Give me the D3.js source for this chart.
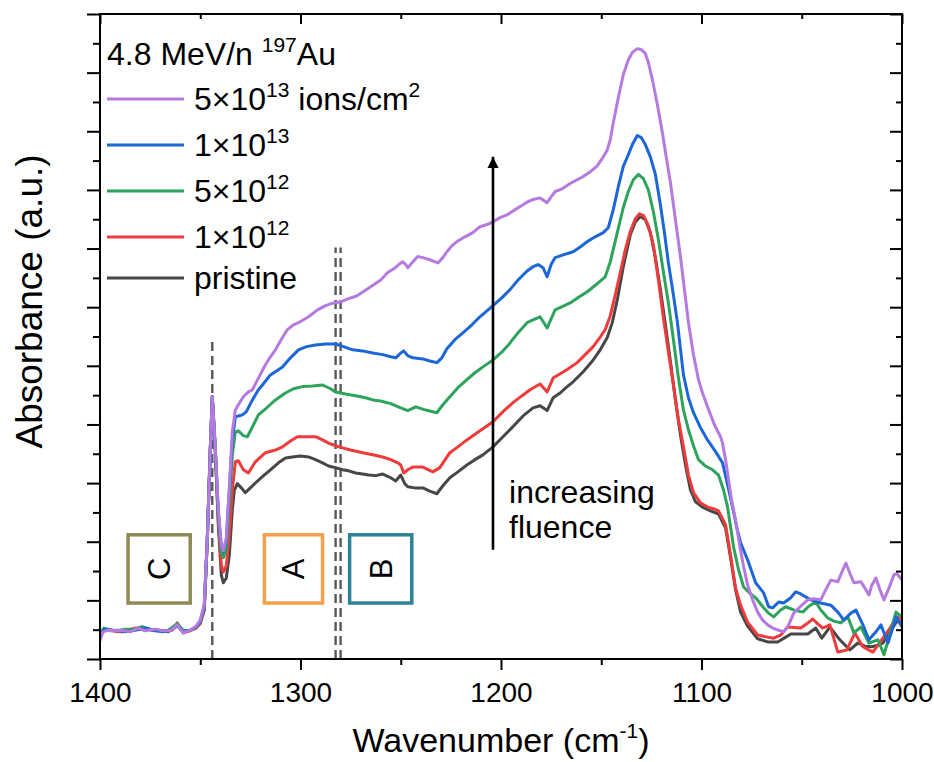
<!DOCTYPE html>
<html>
<head>
<meta charset="utf-8">
<script src="https://cdn.jsdelivr.net/npm/d3@7"></script>
<style>
  body { margin: 0; background: #fff; }
  svg { display: block; }
  text { font-family: "Liberation Sans", Arial, Helvetica, sans-serif; fill: #000; }
</style>
</head>
<body>
<svg id="chart" width="934" height="762"></svg>
<script>
// IR absorbance spectra, [wavenumber (cm-1), absorbance (a.u.)]
const pristine = [[1400,0.047],[1398,0.054],[1396,0.056],[1392.5,0.053],[1389,0.051],[1385,0.054],[1379,0.060],[1375,0.056],[1371,0.054],[1366,0.051],[1361.5,0.066],[1358.5,0.053],[1355,0.054],[1352.5,0.058],[1350,0.068],[1348,0.092],[1346.5,0.223],[1345,0.392],[1344,0.492],[1342.5,0.392],[1341,0.252],[1339.5,0.158],[1338.5,0.143],[1337,0.152],[1335.5,0.195],[1334,0.280],[1333,0.317],[1331.5,0.329],[1329.5,0.321],[1327.5,0.312],[1325,0.321],[1322,0.332],[1319,0.342],[1315,0.355],[1311,0.368],[1307.5,0.377],[1304,0.379],[1300,0.381],[1296,0.379],[1292.5,0.374],[1289,0.368],[1286,0.362],[1282.5,0.359],[1279,0.355],[1276,0.353],[1272.5,0.349],[1269,0.347],[1266,0.345],[1262.5,0.344],[1259,0.347],[1255,0.340],[1252.5,0.334],[1250,0.345],[1248,0.329],[1246.5,0.323],[1243,0.321],[1239,0.321],[1235.5,0.315],[1232,0.310],[1229,0.325],[1225.5,0.340],[1221.5,0.351],[1217,0.364],[1213,0.374],[1209,0.383],[1204,0.398],[1199,0.417],[1194,0.436],[1189,0.456],[1184,0.471],[1180.5,0.475],[1177,0.466],[1174,0.490],[1170.5,0.499],[1167,0.511],[1164,0.520],[1159,0.539],[1154,0.561],[1150.5,0.580],[1147,0.603],[1144.5,0.631],[1142,0.674],[1139,0.736],[1135.5,0.796],[1133,0.820],[1130.5,0.830],[1128,0.824],[1125.5,0.800],[1123,0.753],[1120.5,0.693],[1118,0.627],[1115.5,0.558],[1113,0.486],[1110.5,0.420],[1108,0.364],[1105.5,0.317],[1103,0.295],[1099.5,0.285],[1095.5,0.278],[1091.5,0.272],[1088,0.246],[1085.5,0.190],[1083,0.130],[1080.5,0.088],[1077,0.062],[1072,0.038],[1067,0.032],[1062,0.032],[1058,0.041],[1055.5,0.047],[1050.5,0.047],[1047,0.047],[1043,0.058],[1040,0.039],[1036,0.060],[1031,0.036],[1026,0.017],[1022,0.030],[1018.5,0.024],[1015,0.023],[1012,0.026],[1009.5,0.030],[1006,0.051],[1002.5,0.071],[1000,0.068]];

const fluence1e12 = [[1400,0.047],[1397.5,0.056],[1395,0.054],[1391,0.051],[1387.5,0.053],[1382.5,0.058],[1377.5,0.056],[1372.5,0.054],[1367.5,0.053],[1364,0.054],[1361.5,0.068],[1358.5,0.049],[1355,0.053],[1352,0.058],[1350,0.066],[1348,0.092],[1346.5,0.223],[1345,0.392],[1344,0.492],[1342.5,0.392],[1341,0.261],[1339.5,0.176],[1338.5,0.163],[1337,0.175],[1335.5,0.233],[1334,0.317],[1332.5,0.370],[1331,0.372],[1328.5,0.355],[1326,0.349],[1322.5,0.370],[1317.5,0.387],[1312.5,0.392],[1309,0.398],[1305,0.409],[1301.5,0.417],[1297.5,0.417],[1292.5,0.417],[1289,0.411],[1286,0.405],[1282.5,0.400],[1279,0.396],[1275,0.392],[1269,0.387],[1264,0.383],[1259,0.379],[1255,0.374],[1251.5,0.368],[1250,0.364],[1248.5,0.349],[1246.5,0.355],[1244,0.360],[1239,0.360],[1234,0.351],[1230.5,0.359],[1225.5,0.387],[1221.5,0.398],[1217,0.411],[1210.5,0.428],[1204,0.445],[1199,0.464],[1194,0.481],[1189.5,0.494],[1185.5,0.505],[1180.5,0.516],[1177,0.501],[1174,0.527],[1170.5,0.535],[1167,0.543],[1162,0.556],[1158,0.571],[1154,0.586],[1150.5,0.604],[1148,0.618],[1145.5,0.644],[1143,0.683],[1140.5,0.725],[1138,0.768],[1135.5,0.802],[1133,0.826],[1131,0.835],[1129,0.832],[1126.5,0.813],[1124,0.777],[1121.5,0.711],[1119,0.640],[1116.5,0.576],[1114,0.514],[1111.5,0.449],[1109,0.398],[1106.5,0.345],[1104,0.312],[1100.5,0.293],[1097,0.285],[1094,0.282],[1091.5,0.278],[1088,0.252],[1085.5,0.195],[1083,0.133],[1080.5,0.101],[1077,0.069],[1072,0.045],[1067,0.041],[1064,0.039],[1060.5,0.045],[1057,0.060],[1050.5,0.058],[1047.5,0.066],[1044.5,0.075],[1042,0.066],[1039.5,0.058],[1036,0.064],[1032,0.013],[1027.5,0.017],[1023.5,0.049],[1019.5,0.023],[1014.5,0.013],[1009.5,0.039],[1006,0.058],[1002.5,0.079],[1000,0.073]];

const fluence5e12 = [[1400,0.047],[1398,0.058],[1395,0.054],[1391,0.053],[1387.5,0.056],[1382.5,0.056],[1379,0.060],[1374,0.054],[1370,0.053],[1366,0.054],[1361.5,0.066],[1358.5,0.053],[1355,0.054],[1352,0.060],[1350,0.069],[1348,0.096],[1346.5,0.223],[1345,0.392],[1344,0.492],[1342.5,0.392],[1341,0.270],[1339.5,0.201],[1338.5,0.190],[1337,0.205],[1335.5,0.289],[1334,0.383],[1332.5,0.426],[1331,0.428],[1328.5,0.419],[1326.5,0.417],[1323.5,0.439],[1321,0.458],[1317.5,0.469],[1312.5,0.486],[1307.5,0.499],[1303.5,0.507],[1299,0.511],[1294,0.512],[1289,0.514],[1285,0.507],[1282.5,0.501],[1277.5,0.497],[1272.5,0.494],[1267.5,0.490],[1264,0.486],[1260,0.484],[1255,0.479],[1250,0.471],[1246.5,0.466],[1242.5,0.473],[1237.5,0.467],[1232,0.462],[1229,0.477],[1225.5,0.492],[1221.5,0.509],[1217,0.524],[1213,0.537],[1209,0.548],[1204,0.561],[1199.5,0.576],[1195.5,0.593],[1191.5,0.612],[1187,0.631],[1184,0.636],[1180.5,0.642],[1177,0.621],[1173,0.655],[1169.5,0.661],[1165.5,0.668],[1161.5,0.678],[1157,0.689],[1152,0.704],[1148,0.717],[1145.5,0.745],[1142,0.800],[1139,0.847],[1136.5,0.877],[1134,0.899],[1131.5,0.909],[1129,0.901],[1126.5,0.880],[1124,0.839],[1121.5,0.787],[1119,0.726],[1116.5,0.668],[1114,0.599],[1111.5,0.527],[1109,0.467],[1106.5,0.430],[1104,0.400],[1101.5,0.374],[1098,0.362],[1094.5,0.355],[1091.5,0.345],[1089,0.317],[1087,0.285],[1084,0.210],[1081.5,0.167],[1079,0.135],[1075.5,0.122],[1073,0.115],[1069,0.096],[1066.5,0.086],[1064,0.079],[1060.5,0.092],[1058,0.098],[1054,0.092],[1049.5,0.088],[1046.5,0.099],[1043,0.107],[1040.5,0.092],[1037,0.077],[1034,0.071],[1030.5,0.068],[1027,0.079],[1024,0.049],[1020.5,0.060],[1016.5,0.030],[1012,0.036],[1009,0.008],[1005.5,0.054],[1003,0.088],[1000,0.079]];

const fluence1e13 = [[1400,0.043],[1398,0.056],[1395,0.053],[1391,0.054],[1387.5,0.051],[1382.5,0.054],[1377.5,0.058],[1372.5,0.053],[1368.5,0.051],[1365,0.054],[1361.5,0.062],[1358.5,0.051],[1355,0.054],[1352,0.060],[1350,0.071],[1348,0.099],[1346.5,0.223],[1345,0.392],[1344,0.492],[1342.5,0.396],[1341,0.276],[1339.5,0.212],[1338.5,0.201],[1337,0.223],[1335.5,0.317],[1334,0.411],[1332.5,0.454],[1331,0.456],[1329,0.458],[1327,0.464],[1324,0.486],[1321,0.505],[1319,0.514],[1315,0.533],[1309,0.548],[1305,0.565],[1301,0.580],[1297,0.586],[1292.5,0.589],[1287.5,0.591],[1282.5,0.591],[1278.5,0.586],[1274,0.580],[1269,0.578],[1264,0.574],[1259,0.571],[1255,0.567],[1252.5,0.565],[1250,0.574],[1248.5,0.578],[1246.5,0.569],[1244,0.565],[1239,0.563],[1235.5,0.559],[1232,0.556],[1229.5,0.565],[1227,0.582],[1223,0.599],[1219,0.612],[1214.5,0.627],[1210.5,0.642],[1207,0.653],[1204,0.663],[1199.5,0.678],[1195.5,0.693],[1191.5,0.711],[1187,0.728],[1184,0.736],[1181.5,0.740],[1179,0.734],[1177,0.717],[1175,0.740],[1173,0.753],[1169,0.758],[1164,0.764],[1160.5,0.773],[1157,0.783],[1153,0.792],[1149,0.800],[1146.5,0.809],[1144,0.843],[1141.5,0.886],[1139,0.924],[1136.5,0.946],[1134.5,0.965],[1132,0.982],[1130,0.978],[1128,0.965],[1125.5,0.942],[1123,0.909],[1120.5,0.852],[1118.5,0.800],[1116.5,0.743],[1114,0.683],[1112,0.631],[1109,0.533],[1106.5,0.490],[1104,0.462],[1100.5,0.434],[1097,0.411],[1093,0.389],[1089.5,0.368],[1087,0.327],[1084.5,0.285],[1082.5,0.248],[1080.5,0.218],[1077,0.186],[1073,0.143],[1069,0.124],[1066.5,0.098],[1064.5,0.096],[1061.5,0.107],[1059,0.105],[1055.5,0.115],[1053,0.126],[1050.5,0.122],[1045.5,0.111],[1040.5,0.105],[1035.5,0.101],[1032,0.088],[1029,0.073],[1025.5,0.086],[1023,0.092],[1019.5,0.064],[1016.5,0.036],[1013,0.051],[1010.5,0.064],[1007,0.030],[1005,0.054],[1003,0.079],[1000,0.060]];

const fluence5e13 = [[1400,0.034],[1398.5,0.051],[1396,0.054],[1392.5,0.053],[1389,0.054],[1385,0.051],[1381,0.058],[1377.5,0.053],[1372.5,0.056],[1368.5,0.053],[1365,0.053],[1361.5,0.064],[1358.5,0.049],[1355,0.054],[1352,0.062],[1350,0.073],[1348,0.103],[1346.5,0.223],[1345,0.392],[1344,0.492],[1342.5,0.400],[1341,0.280],[1339.5,0.214],[1338.5,0.203],[1337,0.227],[1335.5,0.321],[1334,0.426],[1332.5,0.467],[1331,0.477],[1328.5,0.492],[1326,0.501],[1324,0.505],[1321,0.527],[1317.5,0.552],[1315,0.567],[1312.5,0.580],[1309,0.603],[1306.5,0.618],[1303.5,0.627],[1300,0.633],[1296,0.642],[1291.5,0.655],[1287.5,0.663],[1283.5,0.668],[1280,0.670],[1276,0.676],[1272,0.681],[1268,0.691],[1263.5,0.702],[1260,0.711],[1256.5,0.725],[1253.5,0.732],[1251,0.740],[1249,0.745],[1247.5,0.740],[1246.5,0.734],[1244,0.745],[1241.5,0.755],[1239,0.753],[1235.5,0.749],[1231.5,0.743],[1229,0.753],[1227,0.764],[1224.5,0.775],[1222,0.783],[1218,0.792],[1214,0.800],[1210.5,0.811],[1207,0.815],[1204,0.820],[1200.5,0.828],[1197,0.833],[1193,0.843],[1189,0.852],[1186.5,0.858],[1184,0.862],[1180.5,0.865],[1177,0.856],[1175,0.867],[1173,0.877],[1169.5,0.882],[1165.5,0.892],[1162,0.899],[1159,0.905],[1155.5,0.914],[1152,0.925],[1149,0.942],[1147,0.955],[1145.5,0.974],[1144,1.006],[1141.5,1.053],[1139,1.096],[1136.5,1.124],[1134.5,1.138],[1132,1.145],[1130,1.143],[1128,1.136],[1126.5,1.119],[1124.5,1.087],[1122,1.040],[1119.5,0.987],[1117.5,0.940],[1115.5,0.894],[1113,0.824],[1110.5,0.755],[1108.5,0.693],[1106.5,0.631],[1104,0.571],[1101.5,0.524],[1099.5,0.499],[1097,0.473],[1093.5,0.439],[1090.5,0.417],[1089.5,0.405],[1088,0.374],[1086.5,0.336],[1085,0.298],[1083,0.261],[1081,0.214],[1079,0.173],[1077,0.139],[1074.5,0.111],[1072,0.088],[1069.5,0.073],[1067,0.064],[1064.5,0.058],[1061.5,0.054],[1059,0.051],[1056.5,0.064],[1054,0.086],[1050.5,0.099],[1047,0.111],[1044,0.113],[1040.5,0.111],[1038,0.130],[1035.5,0.148],[1032,0.145],[1030,0.163],[1028,0.180],[1026,0.161],[1024,0.143],[1020.5,0.145],[1018.5,0.133],[1016.5,0.120],[1015,0.139],[1013,0.152],[1011,0.130],[1009,0.111],[1006.5,0.133],[1004,0.158],[1002.5,0.160],[1000,0.148]];

// legend order (top to bottom); drawn in reverse so the highest fluence sits on top
const seriesNames = ["5×10|13| ions/cm|2", "1×10|13", "5×10|12", "1×10|12", "pristine"];
const seriesData  = [fluence5e13, fluence1e13, fluence5e12, fluence1e12, pristine];
const seriesColors = ["#b47ae0", "#1c66d8", "#2ea35c", "#ef3b3b", "#474747"];

const xMajor = [1400, 1300, 1200, 1100, 1000];
const xMinor = [1350, 1250, 1150, 1050];
const yMajor = d3.range(0, 12).map(i => i * 0.11);
const yMinor = d3.range(0, 11).map(i => i * 0.11 + 0.055);

// marker positions (cm-1)
const markerSingle = [1344];
const markerDouble = [1282.5, 1280];
// region boxes: label and wavenumber span
const regionLabels = ["C", "A", "B"];
const regionSpans = [[1386, 1355], [1318, 1289], [1275.5, 1244.5]];
const regionColors = ["#8f8a55", "#f4a04c", "#2e8399"];

const W = 934, H = 762;
const margin = { left: 100, right: 32, top: 14, bottom: 103 };
const svg = d3.select("#chart");

const x = d3.scaleLinear().domain([1400, 1000]).range([margin.left, W - margin.right]);
const y = d3.scaleLinear().domain([0, 1.21]).range([H - margin.bottom, margin.top]);
const x0 = margin.left, x1 = W - margin.right, y0 = H - margin.bottom, y1 = margin.top;

svg.append("defs").append("clipPath").attr("id", "plotclip")
  .append("rect").attr("x", x0).attr("y", y1).attr("width", x1 - x0).attr("height", y0 - y1);

// vertical dashed markers
const dashG = svg.append("g").attr("stroke", "#585858").attr("stroke-width", 2.4)
  .attr("stroke-dasharray", "9,5");
markerSingle.forEach(w => dashG.append("line")
  .attr("x1", x(w)).attr("x2", x(w)).attr("y1", y(0)).attr("y2", y(0.603)));
markerDouble.forEach(w => dashG.append("line")
  .attr("x1", x(w)).attr("x2", x(w)).attr("y1", y(0)).attr("y2", y(0.772)));

// spectra
const line = d3.line().x(d => x(d[0])).y(d => y(d[1]));
const linesG = svg.append("g").attr("clip-path", "url(#plotclip)");
for (let i = seriesData.length - 1; i >= 0; i--) {
  linesG.append("path").datum(seriesData[i])
    .attr("fill", "none").attr("stroke", seriesColors[i])
    .attr("stroke-width", 3).attr("stroke-linejoin", "round").attr("d", line);
}

// axes
function styleAxis(g) {
  g.select(".domain").remove();
  g.selectAll(".tick line").attr("stroke", "#000").attr("stroke-width", 2);
}
svg.append("g").attr("transform", `translate(0,${y0})`)
  .call(d3.axisBottom(x).tickValues(xMajor).tickSize(11).tickFormat(d3.format("d")))
  .call(styleAxis)
  .call(g => g.selectAll(".tick text").attr("y", 43).attr("dy", 0)
    .attr("font-size", 28).attr("font-family", "Liberation Sans, Arial, sans-serif").attr("fill", "#000"));
svg.append("g").attr("transform", `translate(0,${y0})`)
  .call(d3.axisBottom(x).tickValues(xMinor).tickSize(6).tickFormat(""))
  .call(styleAxis);
svg.append("g").attr("transform", `translate(0,${y1})`)
  .call(d3.axisTop(x).tickValues(xMajor).tickSize(-10).tickFormat(""))
  .call(styleAxis);
svg.append("g").attr("transform", `translate(0,${y1})`)
  .call(d3.axisTop(x).tickValues(xMinor).tickSize(-5).tickFormat(""))
  .call(styleAxis);
svg.append("g").attr("transform", `translate(${x0},0)`)
  .call(d3.axisLeft(y).tickValues(yMajor).tickSize(13).tickFormat(""))
  .call(styleAxis);
svg.append("g").attr("transform", `translate(${x0},0)`)
  .call(d3.axisLeft(y).tickValues(yMinor).tickSize(7).tickFormat(""))
  .call(styleAxis);
svg.append("g").attr("transform", `translate(${x1},0)`)
  .call(d3.axisLeft(y).tickValues(yMajor).tickSize(12).tickFormat(""))
  .call(styleAxis);
svg.append("g").attr("transform", `translate(${x1},0)`)
  .call(d3.axisLeft(y).tickValues(yMinor).tickSize(6).tickFormat(""))
  .call(styleAxis);

svg.append("rect").attr("x", x0).attr("y", y1).attr("width", x1 - x0).attr("height", y0 - y1)
  .attr("fill", "none").attr("stroke", "#000").attr("stroke-width", 2);

// axis titles
const xt = svg.append("text").attr("x", (x0 + x1) / 2).attr("y", 752)
  .attr("text-anchor", "middle").attr("font-size", 34);
xt.append("tspan").text("Wavenumber (cm");
xt.append("tspan").attr("dy", -14).attr("font-size", 21).text("-1");
xt.append("tspan").attr("dy", 14).text(")");

svg.append("text").attr("transform", `translate(42,${(y0 + y1) / 2 - 35}) rotate(-90)`)
  .attr("text-anchor", "middle").attr("font-size", 37).text("Absorbance (a.u.)");

// region boxes
regionLabels.forEach((lab, i) => {
  const [wa, wb] = regionSpans[i];
  const bx = x(wa), bw = x(wb) - x(wa);
  const by = y(0.233), bh = y(0.105) - y(0.233);
  svg.append("rect").attr("x", bx).attr("y", by).attr("width", bw).attr("height", bh)
    .attr("fill", "#fff").attr("stroke", regionColors[i]).attr("stroke-width", 3.5);
  svg.append("text")
    .attr("transform", `translate(${bx + bw / 2 + 11},${by + bh / 2}) rotate(-90)`)
    .attr("text-anchor", "middle").attr("font-size", 31).text(lab);
});

// fluence arrow
const ax = x(1204);
svg.append("defs").append("marker").attr("id", "head")
  .attr("viewBox", "0 0 10 10").attr("refX", 10).attr("refY", 5)
  .attr("markerWidth", 4.4).attr("markerHeight", 4.4).attr("markerUnits", "strokeWidth")
  .attr("orient", "auto")
  .append("path").attr("d", "M0,0 L10,5 L0,10 Z").attr("fill", "#000");
svg.append("line").attr("x1", ax).attr("x2", ax).attr("y1", y(0.205)).attr("y2", y(0.942))
  .attr("stroke", "#000").attr("stroke-width", 2.6).attr("marker-end", "url(#head)");
svg.append("text").attr("x", x(1196)).attr("y", y(0.293)).attr("font-size", 32).text("increasing");
svg.append("text").attr("x", x(1196)).attr("y", y(0.227)).attr("font-size", 32).text("fluence");

// legend
const lg = svg.append("g");
const head = lg.append("text").attr("x", 107).attr("y", 65).attr("font-size", 32);
head.append("tspan").text("4.8 MeV/n ");
head.append("tspan").attr("dy", -13).attr("font-size", 21).text("197");
head.append("tspan").attr("dy", 13).text("Au");

const rowY = [99, 145, 191, 237, 278];
seriesNames.forEach((name, i) => {
  lg.append("line").attr("x1", 107).attr("x2", 184).attr("y1", rowY[i]).attr("y2", rowY[i])
    .attr("stroke", seriesColors[i]).attr("stroke-width", 3);
  const t = lg.append("text").attr("x", 194).attr("y", rowY[i] + 11).attr("font-size", 32);
  name.split("|").forEach((part, k) => {
    const sp = t.append("tspan").text(part);
    if (k % 2 === 1) sp.attr("dy", -13).attr("font-size", 21);
    else if (k > 0) sp.attr("dy", 13);
  });
});
</script>
</body>
</html>
